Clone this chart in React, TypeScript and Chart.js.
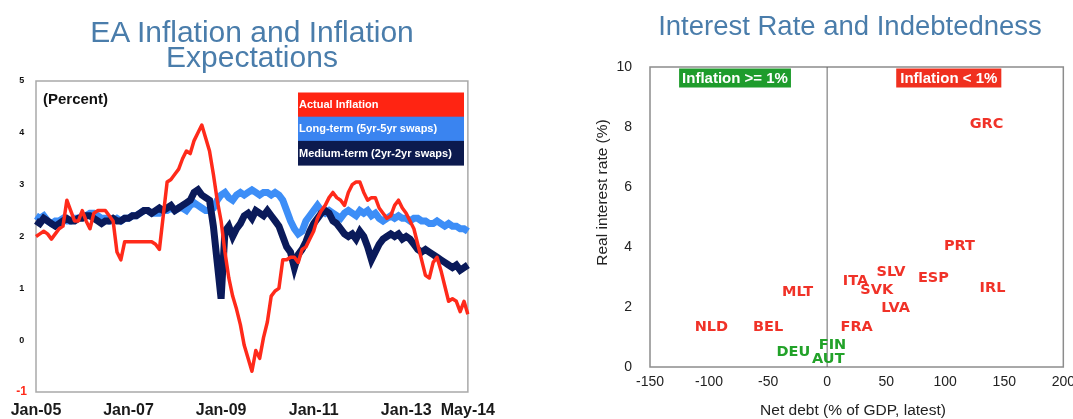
import React, { useEffect, useRef } from 'react';
import { Chart, registerables } from 'chart.js';

Chart.register(...registerables);

const FONT = '"Liberation Sans", Arial, Helvetica, sans-serif';
const LABEL_FONT = '"DejaVu Sans", Verdana, sans-serif';
const TITLE_COLOR = '#4a7dab';

// ---------- Left chart data (monthly, Jan-05 .. May-14) ----------
const monthNames = ['Jan', 'Feb', 'Mar', 'Apr', 'May', 'Jun', 'Jul', 'Aug', 'Sep', 'Oct', 'Nov', 'Dec'];
const months: string[] = [];
for (let y = 5; y <= 14; y++) {
  for (let m = 0; m < 12; m++) {
    if (y === 14 && m > 4) break;
    months.push(`${monthNames[m]}-${String(y).padStart(2, '0')}`);
  }
}
const xTickLabels = ['Jan-05', 'Jan-07', 'Jan-09', 'Jan-11', 'Jan-13', 'May-14'];

const actualInflation = [
  2.0, 2.05, 2.1, 2.05, 1.95, 2.05, 2.15, 2.2, 2.7, 2.5, 2.3, 2.3,
  2.5, 2.3, 2.15, 2.45, 2.5, 2.5, 2.5, 2.4, 2.3, 1.7, 1.55, 1.9,
  1.9, 1.9, 1.9, 1.9, 1.9, 1.9, 1.9, 1.85, 1.75, 2.4, 3.05, 3.1,
  3.2, 3.3, 3.5, 3.65, 3.6, 3.85, 4.0, 4.15, 3.9, 3.65, 3.2, 2.7,
  2.3, 1.7, 1.2, 0.85, 0.6, 0.3, -0.1, -0.35, -0.6, -0.2, -0.35, 0.05,
  0.35, 0.85, 0.95, 1.0, 1.55, 1.55, 1.6, 1.6, 1.5, 1.75, 1.8, 1.95,
  2.1, 2.35, 2.5, 2.6, 2.75, 2.85, 2.75, 2.7, 2.6, 2.85, 3.0, 3.05,
  3.05, 2.85, 2.7, 2.75, 2.75, 2.55, 2.45, 2.35, 2.4, 2.6, 2.7, 2.55,
  2.45, 2.3, 2.15, 1.85, 1.55, 1.25, 1.2, 1.5, 1.6, 1.35, 1.05, 0.75,
  0.8, 0.75, 0.55, 0.75, 0.5,
];

const longTermSwaps = [
  2.4, 2.35, 2.4, 2.3, 2.25, 2.3, 2.3, 2.35, 2.3, 2.3, 2.35, 2.35,
  2.4, 2.4, 2.45, 2.45, 2.4, 2.35, 2.35, 2.3, 2.3, 2.35, 2.3, 2.35,
  2.35, 2.4, 2.4, 2.45, 2.5, 2.5, 2.45, 2.45, 2.45, 2.5, 2.5, 2.55,
  2.5, 2.55, 2.55, 2.5, 2.6, 2.65, 2.6, 2.55, 2.5, 2.5, 2.55, 2.7,
  2.8, 2.85, 2.75, 2.7, 2.8, 2.85, 2.8, 2.85, 2.9, 2.85, 2.8, 2.85,
  2.85, 2.8, 2.85, 2.8, 2.7, 2.5, 2.3, 2.15, 2.05, 2.1, 2.3, 2.4,
  2.5, 2.6, 2.5, 2.45, 2.5, 2.45, 2.4, 2.35, 2.45, 2.5, 2.45, 2.4,
  2.5, 2.45, 2.5, 2.4, 2.45, 2.35, 2.3, 2.35, 2.4, 2.35, 2.4, 2.35,
  2.35, 2.3, 2.35, 2.35, 2.3, 2.3, 2.25, 2.25, 2.3, 2.25, 2.2, 2.25,
  2.2, 2.2, 2.15, 2.15, 2.1,
];

const mediumTermSwaps = [
  2.3, 2.25, 2.35, 2.3, 2.25, 2.2, 2.25, 2.3, 2.35, 2.3, 2.3, 2.35,
  2.35, 2.4, 2.4, 2.35, 2.3, 2.25, 2.3, 2.3, 2.35, 2.3, 2.3, 2.35,
  2.35, 2.4, 2.4, 2.45, 2.5, 2.5, 2.45, 2.5, 2.55, 2.5, 2.55, 2.6,
  2.5, 2.55, 2.6, 2.65, 2.7, 2.85, 2.9, 2.8, 2.75, 2.7, 2.2, 1.5,
  0.8, 2.1, 2.2, 2.0, 2.15, 2.25, 2.4, 2.45, 2.35, 2.5, 2.45, 2.4,
  2.5, 2.4, 2.3, 2.2, 2.0, 1.8, 1.7, 1.4, 1.65, 1.75, 1.9, 2.1,
  2.25, 2.35, 2.45, 2.5, 2.45, 2.3, 2.25, 2.15, 2.05, 2.0, 2.05, 1.95,
  2.1, 2.0, 1.8, 1.55, 1.7, 1.85, 1.95, 2.0, 2.05, 2.0, 2.05, 1.95,
  2.0, 1.95, 1.85, 1.75, 1.7, 1.75, 1.7, 1.65, 1.6, 1.55, 1.5, 1.45,
  1.4, 1.45, 1.35, 1.4, 1.45,
];

const seriesLabels = ['Actual Inflation', 'Long-term (5yr-5yr swaps)', 'Medium-term (2yr-2yr swaps)'];
const seriesColors = ['#ff2a1a', '#3d8ef7', '#0a1a5a'];
const legendColors = ['#ff2412', '#3a84f0', '#0c1a4e'];

// ---------- Right chart data ----------
const countries = ['GRC', 'PRT', 'SLV', 'ESP', 'SVK', 'IRL', 'LVA', 'ITA', 'MLT', 'NLD', 'BEL', 'FRA', 'FIN', 'DEU', 'AUT'];
const netDebt = [135, 112, 54, 90, 42, 140, 58, 24, -25, -98, -50, 25, 4.5, -28.6, 1];
const realRate = [8.1, 4.03, 3.17, 2.95, 2.56, 2.61, 1.95, 2.87, 2.48, 1.31, 1.31, 1.34, 0.71, 0.49, 0.27];
const inflationAbove1 = [false, false, false, false, false, false, false, false, false, false, false, false, true, true, true];
const groupLabels = ['Inflation >= 1%', 'Inflation < 1%'];
const groupColors = ['#22a229', '#f03228'];
const groupBoxColors = ['#1e9c2c', '#f0301f'];

const leftDecor = {
  id: 'leftDecor',
  beforeDatasetsDraw(chart: any) {
    const { ctx, chartArea: a } = chart;
    ctx.save();
    ctx.strokeStyle = '#a9a9a9';
    ctx.lineWidth = 1.5;
    ctx.strokeRect(a.left, a.top, a.right - a.left, a.bottom - a.top);
    ctx.restore();
  },
  afterDraw(chart: any) {
    const { ctx, chartArea: a } = chart;
    ctx.save();
    ctx.fillStyle = '#111';
    ctx.font = `bold 15px ${FONT}`;
    ctx.textAlign = 'left';
    ctx.textBaseline = 'middle';
    ctx.fillText('(Percent)', a.left + 7, a.top + 19);
    const lx = 298;
    const lw = 166;
    const top = 92.5;
    const h = 24.2;
    ctx.font = `bold 11px ${FONT}`;
    seriesLabels.forEach((label, i) => {
      ctx.fillStyle = legendColors[i];
      ctx.fillRect(lx, top + i * h, lw, h + 0.5);
      ctx.fillStyle = '#ffffff';
      ctx.fillText(label, lx + 1, top + i * h + h / 2 + 0.5);
    });
    ctx.restore();
  },
};

const rightDecor = {
  id: 'rightDecor',
  beforeDatasetsDraw(chart: any) {
    const { ctx, chartArea: a, scales } = chart;
    ctx.save();
    ctx.strokeStyle = '#8c8c8c';
    ctx.lineWidth = 1.5;
    ctx.strokeRect(a.left, a.top, a.right - a.left, a.bottom - a.top);
    const x0 = scales.x.getPixelForValue(0);
    ctx.strokeStyle = '#666';
    ctx.lineWidth = 1;
    ctx.beginPath();
    ctx.moveTo(x0, a.top);
    ctx.lineTo(x0, a.bottom);
    ctx.stroke();
    ctx.restore();
  },
  afterDatasetsDraw(chart: any) {
    const { ctx } = chart;
    ctx.save();
    ctx.font = `bold 14.5px ${LABEL_FONT}`;
    ctx.textAlign = 'center';
    ctx.textBaseline = 'middle';
    chart.data.datasets.forEach((ds: any, di: number) => {
      const meta = chart.getDatasetMeta(di);
      meta.data.forEach((pt: any, i: number) => {
        ctx.fillStyle = ds.labelColor;
        ctx.fillText(ds.data[i].label, pt.x, pt.y);
      });
    });
    ctx.restore();
  },
  afterDraw(chart: any) {
    const { ctx, scales, chartArea: a } = chart;
    ctx.save();
    ctx.font = `bold 15px ${FONT}`;
    ctx.textAlign = 'center';
    ctx.textBaseline = 'middle';
    const boxCentersX = [scales.x.getPixelForValue(-78), scales.x.getPixelForValue(103)];
    const padX = [3, 4];
    groupLabels.forEach((label, i) => {
      const w = ctx.measureText(label).width + padX[i] * 2;
      const cx = boxCentersX[i];
      ctx.fillStyle = groupBoxColors[i];
      ctx.fillRect(cx - w / 2, a.top + 1.5, w, 19);
      ctx.fillStyle = '#ffffff';
      ctx.fillText(label, cx, a.top + 11.5);
    });
    ctx.fillStyle = '#222';
    ctx.font = `15.5px ${FONT}`;
    ctx.fillText('Net debt (% of GDP, latest)', 313, 411);
    ctx.translate(63, 192.5);
    ctx.rotate(-Math.PI / 2);
    ctx.fillText('Real interest rate (%)', 0, 0);
    ctx.restore();
  },
};

export default function App() {
  const leftRef = useRef<HTMLCanvasElement>(null);
  const rightRef = useRef<HTMLCanvasElement>(null);

  useEffect(() => {
    const left = new Chart(leftRef.current as HTMLCanvasElement, {
      type: 'line',
      data: {
        labels: months,
        datasets: [
          {
            label: seriesLabels[0],
            data: actualInflation,
            borderColor: seriesColors[0],
            borderWidth: 3.5,
            pointRadius: 0,
            tension: 0,
            borderJoinStyle: 'round',
            order: 0,
          },
          {
            label: seriesLabels[1],
            data: longTermSwaps,
            borderColor: seriesColors[1],
            borderWidth: 7,
            pointRadius: 0,
            tension: 0,
            order: 2,
          },
          {
            label: seriesLabels[2],
            data: mediumTermSwaps,
            borderColor: seriesColors[2],
            borderWidth: 7,
            pointRadius: 0,
            tension: 0,
            order: 1,
          },
        ],
      },
      options: {
        animation: false,
        responsive: true,
        maintainAspectRatio: false,
        layout: { padding: { top: 81, right: 32, left: 0, bottom: 0 } },
        plugins: { legend: { display: false }, tooltip: { enabled: false }, title: { display: false } },
        scales: {
          x: {
            type: 'category',
            grid: { display: false, drawTicks: false },
            border: { display: false },
            afterFit: (s: any) => { s.height = 27; },
            ticks: {
              autoSkip: false,
              maxRotation: 0,
              minRotation: 0,
              padding: 9,
              color: '#1a1a1a',
              font: { family: FONT, size: 16, weight: 'bold' },
              callback: (_v: any, idx: number) => (xTickLabels.includes(months[idx]) ? months[idx] : ''),
            },
          },
          y: {
            type: 'linear',
            min: -1,
            max: 5,
            grid: { display: false, drawTicks: false },
            border: { display: false },
            afterFit: (s: any) => { s.width = 36; },
            ticks: {
              stepSize: 1,
              autoSkip: false,
              padding: 9,
              crossAlign: 'center',
              color: (c: any) => (c.tick && c.tick.value === -1 ? '#ff2a1a' : '#111'),
              font: (c: any) =>
                c.tick && c.tick.value === -1
                  ? { family: FONT, size: 12, weight: 'bold' }
                  : { family: FONT, size: 9, weight: 'bold' },
            },
          },
        },
      } as any,
      plugins: [leftDecor],
    });

    const groups = [true, false];
    const right = new Chart(rightRef.current as HTMLCanvasElement, {
      type: 'scatter',
      data: {
        datasets: groups.map((g, gi) => ({
          label: groupLabels[gi],
          labelColor: groupColors[gi],
          data: countries
            .map((c, i) => ({ x: netDebt[i], y: realRate[i], label: c, g: inflationAbove1[i] }))
            .filter((p) => p.g === g),
          pointRadius: 0,
          backgroundColor: groupColors[gi],
        })) as any,
      },
      options: {
        animation: false,
        responsive: true,
        maintainAspectRatio: false,
        layout: { padding: { top: 67, right: 10, left: 0, bottom: 0 } },
        plugins: { legend: { display: false }, tooltip: { enabled: false }, title: { display: false } },
        scales: {
          x: {
            type: 'linear',
            min: -150,
            max: 200,
            grid: { display: false, drawTicks: false },
            border: { display: false },
            afterFit: (s: any) => { s.height = 52; },
            ticks: {
              stepSize: 50,
              autoSkip: false,
              maxRotation: 0,
              padding: 7,
              color: '#222',
              font: { family: FONT, size: 14 },
            },
          },
          y: {
            type: 'linear',
            min: 0,
            max: 10,
            grid: { display: false, drawTicks: false },
            border: { display: false },
            afterFit: (s: any) => { s.width = 110; },
            ticks: {
              stepSize: 2,
              autoSkip: false,
              padding: 18,
              color: '#222',
              font: { family: FONT, size: 14 },
            },
          },
        },
      } as any,
      plugins: [rightDecor],
    });

    return () => {
      left.destroy();
      right.destroy();
    };
  }, []);

  return (
    <div style={{ position: 'fixed', left: 0, top: 0, width: 1073, height: 419, background: '#fff', overflow: 'hidden' }}>
      <div style={{ position: 'absolute', left: 0, top: 0, width: 504, height: 419 }}>
        <canvas ref={leftRef} />
      </div>
      <div style={{ position: 'absolute', left: 540, top: 0, width: 542, height: 419 }}>
        <canvas ref={rightRef} />
      </div>
      <div
        style={{
          position: 'absolute',
          left: 52,
          top: 18.8,
          width: 400,
          textAlign: 'center',
          fontFamily: FONT,
          fontSize: 30,
          lineHeight: '25px',
          color: TITLE_COLOR,
          whiteSpace: 'nowrap',
        }}
      >
        EA Inflation and Inflation
        <br />
        Expectations
      </div>
      <div
        style={{
          position: 'absolute',
          left: 650,
          top: 10.5,
          width: 400,
          textAlign: 'center',
          fontFamily: FONT,
          fontSize: 27.5,
          lineHeight: '30px',
          color: TITLE_COLOR,
          whiteSpace: 'nowrap',
        }}
      >
        Interest Rate and Indebtedness
      </div>
    </div>
  );
}
